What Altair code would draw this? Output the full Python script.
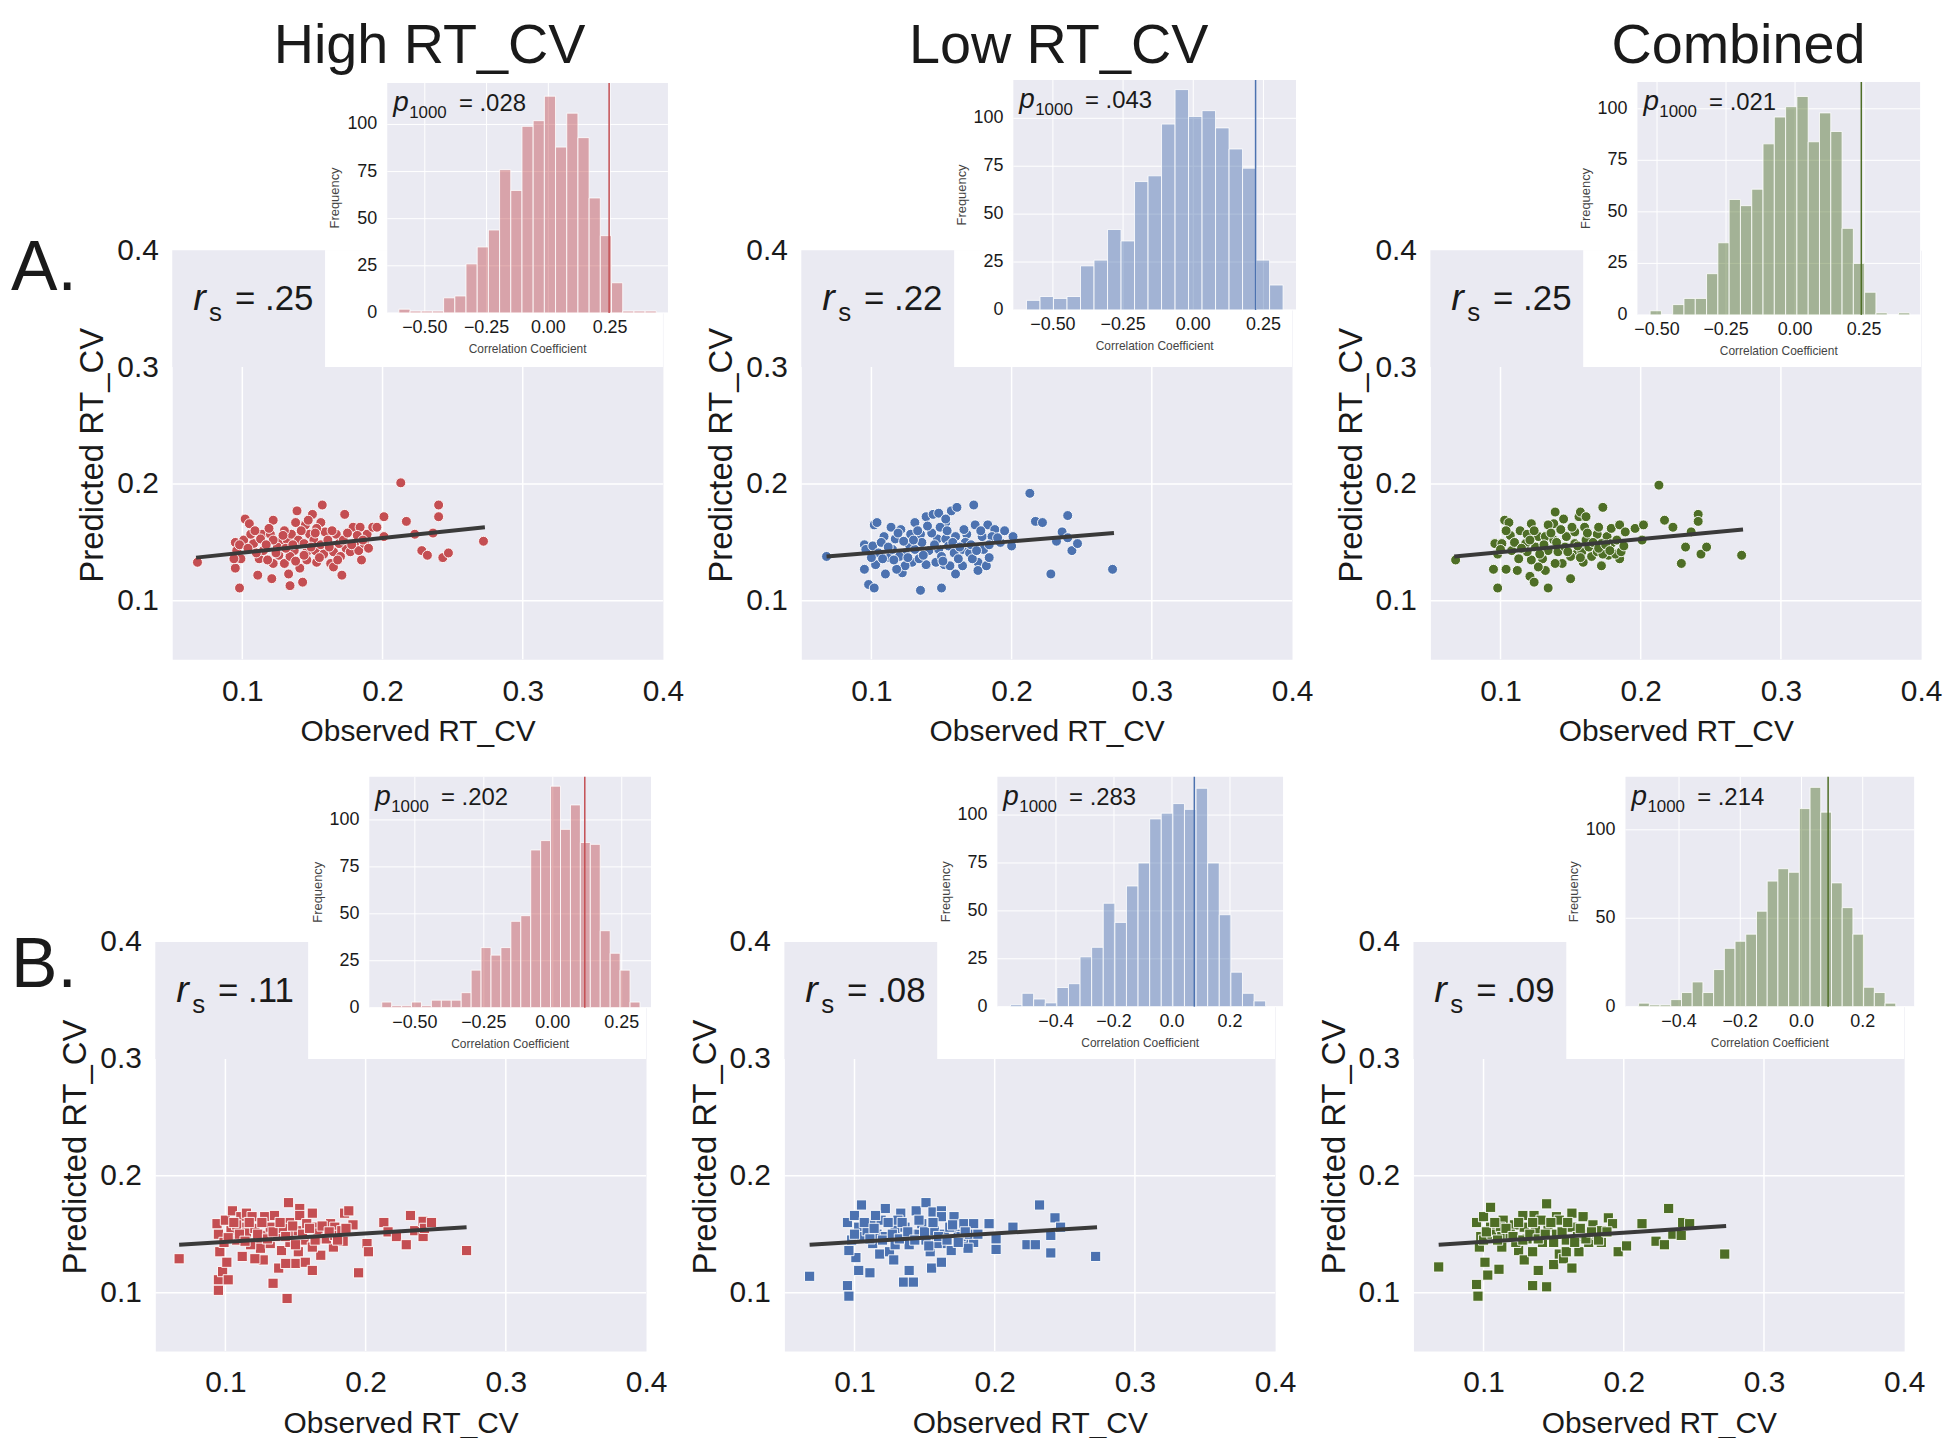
import altair as alt
import pandas as pd

FONT = "Liberation Sans"
BG = "#EAEAF2"
RED, BLUE, GREEN = "#C44E52", "#4C72B0", "#4E6E26"
W, H = 493, 411

COL_TITLES = ["High RT_CV", "Low RT_CV", "Combined"]
ROW_LABELS = ["A.", "B."]
RS = [".25", ".22", ".25", ".11", ".08", ".09"]
P1000 = [".028", ".043", ".021", ".202", ".283", ".214"]
OBS_R = [0.246, 0.222, 0.240, 0.116, 0.077, 0.087]

# ---------------- scatter data (observed, predicted) ----------------
A1_pts = [(0.068,0.133),(0.098,0.111),(0.095,0.128),(0.102,0.170),(0.105,0.166),(0.095,0.150),(0.096,0.143),
          (0.099,0.136),(0.101,0.152),(0.108,0.149),(0.112,0.136),(0.111,0.122),(0.114,0.157),(0.120,0.157),
          (0.122,0.169),(0.121,0.119),(0.122,0.132),(0.127,0.150),(0.130,0.132),(0.134,0.113),(0.133,0.123),
          (0.137,0.143),(0.139,0.177),(0.138,0.167),(0.141,0.128),(0.143,0.116),(0.145,0.165),(0.146,0.142),
          (0.148,0.157),(0.150,0.174),(0.151,0.152),(0.153,0.133),(0.156,0.167),(0.157,0.182),(0.159,0.159),
          (0.160,0.143),(0.163,0.132),(0.165,0.142),(0.167,0.157),(0.171,0.122),(0.173,0.174),(0.174,0.145),
          (0.179,0.163),(0.180,0.149),(0.184,0.163),(0.185,0.135),(0.189,0.157),(0.193,0.163),(0.196,0.163),
          (0.201,0.172),(0.201,0.155),(0.213,0.201),(0.217,0.168),(0.223,0.157),(0.228,0.143),(0.232,0.139),
          (0.236,0.158),(0.240,0.182),(0.240,0.172),(0.243,0.137),(0.247,0.141),(0.272,0.151),(0.094,0.136),
          (0.098,0.148),(0.106,0.157),(0.113,0.153),(0.115,0.143),(0.118,0.135),(0.125,0.146),(0.126,0.139),
          (0.132,0.152),(0.134,0.138),(0.135,0.157),(0.140,0.152),(0.144,0.149),(0.146,0.135),(0.152,0.143),
          (0.156,0.148),(0.158,0.140),(0.161,0.152),(0.165,0.129),(0.169,0.149),(0.170,0.138),(0.177,0.142),
          (0.182,0.156),(0.183,0.143),(0.187,0.149),(0.153,0.162),(0.147,0.169),(0.130,0.160),(0.109,0.160),
          (0.122,0.152),(0.104,0.145),(0.110,0.141),(0.117,0.148),(0.119,0.162),(0.124,0.141),(0.129,0.156),
          (0.131,0.145),(0.136,0.148),(0.138,0.134),(0.142,0.160),(0.144,0.139),(0.149,0.146),(0.152,0.158),
          (0.155,0.137),(0.162,0.146),(0.164,0.160),(0.168,0.135),(0.172,0.152),(0.175,0.158),(0.178,0.148),
          (0.186,0.152),(0.190,0.145)]
A2_pts = [(0.068,0.138),(0.095,0.127),(0.098,0.114),(0.102,0.111),(0.103,0.131),(0.095,0.148),(0.102,0.165),
          (0.104,0.167),(0.109,0.155),(0.110,0.123),(0.114,0.163),(0.113,0.137),(0.121,0.161),(0.122,0.124),
          (0.124,0.141),(0.128,0.157),(0.129,0.133),(0.135,0.109),(0.135,0.157),(0.139,0.172),(0.144,0.174),
          (0.148,0.175),(0.153,0.167),(0.157,0.177),(0.161,0.180),(0.150,0.111),(0.147,0.153),(0.139,0.131),
          (0.146,0.133),(0.152,0.131),(0.160,0.123),(0.165,0.130),(0.165,0.144),(0.168,0.157),(0.173,0.182),
          (0.174,0.165),(0.176,0.133),(0.176,0.126),(0.182,0.130),(0.184,0.137),(0.183,0.165),(0.188,0.161),
          (0.192,0.150),(0.195,0.160),(0.200,0.147),(0.201,0.155),(0.213,0.192),(0.217,0.168),(0.222,0.167),
          (0.228,0.123),(0.232,0.151),(0.236,0.159),(0.240,0.173),(0.240,0.154),(0.243,0.143),(0.247,0.149),
          (0.272,0.127),(0.096,0.144),(0.101,0.147),(0.105,0.141),(0.108,0.136),(0.115,0.144),(0.117,0.153),
          (0.120,0.138),(0.127,0.148),(0.131,0.144),(0.134,0.136),(0.136,0.150),(0.141,0.143),(0.143,0.158),
          (0.148,0.144),(0.150,0.138),(0.153,0.153),(0.155,0.147),(0.159,0.141),(0.160,0.155),(0.162,0.136),
          (0.167,0.150),(0.170,0.141),(0.172,0.136),(0.179,0.155),(0.180,0.144),(0.186,0.155),(0.124,0.130),
          (0.118,0.127),(0.156,0.130),(0.131,0.167),(0.153,0.170),(0.100,0.137),(0.107,0.150),(0.112,0.146),
          (0.116,0.135),(0.119,0.158),(0.123,0.151),(0.126,0.137),(0.130,0.152),(0.133,0.160),(0.137,0.139),
          (0.140,0.164),(0.145,0.148),(0.149,0.163),(0.151,0.134),(0.154,0.160),(0.158,0.150),(0.163,0.146),
          (0.166,0.161),(0.171,0.148),(0.175,0.143),(0.178,0.160),(0.184,0.148),(0.190,0.154)]
A3_pts = [(0.068,0.135),(0.098,0.111),(0.095,0.127),(0.103,0.169),(0.106,0.167),(0.096,0.149),(0.101,0.149),
          (0.104,0.127),(0.112,0.126),(0.114,0.160),(0.113,0.136),(0.122,0.166),(0.121,0.121),(0.124,0.116),
          (0.122,0.135),(0.127,0.155),(0.130,0.136),(0.134,0.111),(0.132,0.126),(0.139,0.176),(0.138,0.166),
          (0.145,0.170),(0.144,0.132),(0.147,0.155),(0.150,0.119),(0.153,0.159),(0.156,0.172),(0.157,0.176),
          (0.161,0.172),(0.154,0.140),(0.161,0.152),(0.165,0.138),(0.169,0.157),(0.170,0.163),(0.173,0.180),
          (0.172,0.130),(0.176,0.155),(0.177,0.139),(0.179,0.162),(0.185,0.165),(0.185,0.136),(0.189,0.159),
          (0.196,0.162),(0.202,0.165),(0.201,0.152),(0.213,0.199),(0.217,0.169),(0.223,0.163),(0.229,0.132),
          (0.232,0.146),(0.236,0.159),(0.241,0.174),(0.241,0.168),(0.243,0.140),(0.247,0.146),(0.272,0.139),
          (0.098,0.140),(0.107,0.156),(0.108,0.143),(0.118,0.149),(0.119,0.142),(0.125,0.146),(0.132,0.155),
          (0.134,0.143),(0.138,0.152),(0.141,0.142),(0.146,0.146),(0.150,0.138),(0.153,0.149),(0.158,0.142),
          (0.159,0.133),(0.163,0.146),(0.169,0.142),(0.172,0.149),(0.173,0.140),(0.179,0.149),(0.182,0.140),
          (0.186,0.142),(0.134,0.165),(0.119,0.157),(0.160,0.163),(0.139,0.132),(0.127,0.129),(0.100,0.144),
          (0.104,0.160),(0.110,0.150),(0.115,0.145),(0.121,0.152),(0.124,0.160),(0.128,0.140),(0.131,0.148),
          (0.136,0.158),(0.140,0.150),(0.143,0.161),(0.148,0.142),(0.151,0.163),(0.155,0.147),(0.157,0.137),
          (0.162,0.158),(0.166,0.150),(0.170,0.145),(0.175,0.148),(0.178,0.143),(0.183,0.152),(0.188,0.147)]
B1_pts = [(0.067,0.129),(0.095,0.111),(0.095,0.102),(0.098,0.118),(0.102,0.111),(0.096,0.135),(0.095,0.150),
          (0.094,0.159),(0.100,0.162),(0.105,0.170),(0.101,0.126),(0.112,0.131),(0.111,0.165),(0.115,0.168),
          (0.108,0.145),(0.113,0.156),(0.119,0.165),(0.124,0.142),(0.125,0.138),(0.127,0.128),(0.128,0.165),
          (0.134,0.108),(0.135,0.166),(0.138,0.121),(0.144,0.095),(0.145,0.177),(0.146,0.160),(0.149,0.152),
          (0.150,0.125),(0.152,0.135),(0.153,0.172),(0.153,0.166),(0.157,0.126),(0.162,0.168),(0.162,0.119),
          (0.163,0.156),(0.168,0.132),(0.170,0.146),(0.175,0.159),(0.177,0.139),(0.178,0.156),(0.185,0.168),
          (0.188,0.170),(0.184,0.144),(0.191,0.158),(0.195,0.117),(0.201,0.142),(0.202,0.135),(0.213,0.160),
          (0.216,0.152),(0.222,0.148),(0.229,0.141),(0.232,0.166),(0.235,0.153),(0.241,0.161),(0.241,0.148),
          (0.242,0.155),(0.247,0.160),(0.272,0.136),(0.099,0.143),(0.104,0.153),(0.108,0.158),(0.115,0.151),
          (0.118,0.141),(0.121,0.155),(0.127,0.149),(0.132,0.156),(0.132,0.142),(0.137,0.148),(0.140,0.136),
          (0.141,0.155),(0.146,0.143),(0.152,0.153),(0.156,0.145),(0.158,0.159),(0.162,0.139),(0.166,0.151),
          (0.172,0.146),(0.178,0.149),(0.183,0.153),(0.143,0.125),(0.121,0.129),(0.102,0.147),(0.106,0.160),
          (0.110,0.150),(0.114,0.144),(0.117,0.160),(0.123,0.150),(0.126,0.160),(0.130,0.146),(0.134,0.152),
          (0.139,0.160),(0.143,0.148),(0.148,0.157),(0.150,0.141),(0.155,0.150),(0.160,0.155),(0.164,0.145),
          (0.169,0.157),(0.174,0.152),(0.180,0.145),(0.186,0.155)]
B2_pts = [(0.068,0.114),(0.095,0.106),(0.096,0.097),(0.103,0.119),(0.111,0.117),(0.101,0.130),(0.096,0.136),
          (0.095,0.160),(0.100,0.166),(0.105,0.175),(0.103,0.156),(0.098,0.145),(0.112,0.159),(0.113,0.142),
          (0.118,0.133),(0.122,0.172),(0.125,0.135),(0.128,0.128),(0.129,0.155),(0.133,0.168),(0.135,0.109),
          (0.139,0.119),(0.142,0.109),(0.139,0.141),(0.144,0.170),(0.151,0.177),(0.154,0.135),(0.155,0.121),
          (0.156,0.169),(0.162,0.170),(0.162,0.165),(0.162,0.126),(0.165,0.142),(0.171,0.165),(0.174,0.150),
          (0.178,0.159),(0.179,0.142),(0.185,0.159),(0.185,0.143),(0.196,0.159),(0.201,0.146),(0.201,0.137),
          (0.213,0.156),(0.223,0.141),(0.229,0.141),(0.232,0.175),(0.240,0.149),(0.240,0.134),(0.243,0.164),
          (0.247,0.156),(0.272,0.131),(0.105,0.148),(0.109,0.153),(0.116,0.150),(0.119,0.162),(0.122,0.148),
          (0.129,0.141),(0.131,0.162),(0.136,0.156),(0.141,0.150),(0.146,0.150),(0.148,0.159),(0.151,0.145),
          (0.157,0.153),(0.159,0.142),(0.164,0.150),(0.168,0.156),(0.169,0.136),(0.176,0.148),(0.182,0.150),
          (0.181,0.138),(0.115,0.166),(0.100,0.150),(0.107,0.160),(0.111,0.146),(0.114,0.155),(0.120,0.145),
          (0.124,0.160),(0.127,0.150),(0.132,0.146),(0.134,0.160),(0.138,0.152),(0.143,0.145),(0.146,0.162),
          (0.150,0.152),(0.153,0.140),(0.156,0.160),(0.160,0.148),(0.166,0.145),(0.170,0.158),(0.174,0.143),
          (0.179,0.152),(0.188,0.150)]
B3_pts = [(0.068,0.122),(0.095,0.107),(0.096,0.097),(0.103,0.115),(0.111,0.120),(0.101,0.126),(0.097,0.139),
          (0.095,0.160),(0.100,0.165),(0.105,0.173),(0.105,0.156),(0.098,0.148),(0.113,0.139),(0.114,0.162),
          (0.122,0.158),(0.125,0.136),(0.129,0.128),(0.128,0.166),(0.135,0.135),(0.135,0.106),(0.139,0.119),
          (0.145,0.105),(0.145,0.176),(0.136,0.166),(0.150,0.124),(0.152,0.165),(0.154,0.133),(0.157,0.129),
          (0.163,0.168),(0.163,0.121),(0.168,0.135),(0.171,0.165),(0.178,0.158),(0.178,0.145),(0.184,0.143),
          (0.189,0.164),(0.192,0.159),(0.196,0.135),(0.202,0.140),(0.213,0.159),(0.223,0.144),(0.229,0.141),
          (0.232,0.172),(0.235,0.150),(0.241,0.149),(0.242,0.160),(0.247,0.159),(0.272,0.133),(0.100,0.145),
          (0.106,0.150),(0.112,0.156),(0.113,0.148),(0.119,0.150),(0.123,0.143),(0.129,0.156),(0.131,0.146),
          (0.137,0.153),(0.142,0.143),(0.146,0.156),(0.152,0.150),(0.154,0.162),(0.159,0.145),(0.163,0.156),
          (0.167,0.148),(0.172,0.150),(0.175,0.143),(0.181,0.150),(0.184,0.153),(0.141,0.162),(0.159,0.135),
          (0.102,0.152),(0.108,0.160),(0.110,0.145),(0.116,0.155),(0.121,0.148),(0.125,0.160),(0.128,0.145),
          (0.133,0.150),(0.135,0.160),(0.139,0.146),(0.144,0.150),(0.148,0.160),(0.150,0.143),(0.156,0.152),
          (0.160,0.160),(0.165,0.143),(0.169,0.155),(0.173,0.146),(0.177,0.152),(0.182,0.145),(0.188,0.152)]

# regression line endpoints (observed, predicted)
A1_line = [(0.067, 0.137), (0.273, 0.163)]
A2_line = [(0.068, 0.138), (0.273, 0.158)]
A3_line = [(0.067, 0.138), (0.273, 0.161)]
B1_line = [(0.067, 0.141), (0.272, 0.156)]
B2_line = [(0.068, 0.141), (0.273, 0.156)]
B3_line = [(0.068, 0.141), (0.273, 0.157)]

# ---------------- permutation histograms ----------------
A1_bin_start, A1_bin_width = -0.605, 0.0453
A1_counts = [2, 1, 1, 1, 8, 9, 26, 35, 44, 76, 65, 99, 102, 115, 88, 106, 93, 61, 41, 16, 1, 1, 1]
A2_bin_start, A2_bin_width = -0.594, 0.0481
A2_counts = [5, 7, 6, 7, 23, 26, 42, 36, 67, 70, 97, 115, 101, 104, 95, 84, 74, 26, 13]
A3_bin_start, A3_bin_width = -0.525, 0.0409
A3_counts = [2, 0, 5, 8, 8, 20, 35, 56, 53, 61, 83, 96, 101, 106, 84, 98, 89, 42, 25, 11, 1, 0, 1]
B1_bin_start, B1_bin_width = -0.620, 0.036
B1_counts = [3, 1, 1, 3, 1, 4, 4, 4, 8, 20, 32, 28, 32, 46, 49, 84, 89, 118, 95, 108, 88, 87, 41, 29, 20, 3]
B2_bin_start, B2_bin_width = -0.557, 0.040
B2_counts = [1, 7, 4, 2, 10, 12, 26, 31, 54, 44, 63, 75, 98, 101, 106, 103, 114, 75, 48, 18, 7, 3]
B3_bin_start, B3_bin_width = -0.532, 0.035
B3_counts = [2, 1, 1, 4, 8, 14, 8, 21, 33, 37, 41, 54, 71, 78, 76, 112, 124, 110, 70, 56, 41, 11, 8, 2]

TICKS_A = [-0.5, -0.25, 0.0, 0.25]
TICKS_B = [-0.4, -0.2, 0.0, 0.2]
Y5 = [0, 25, 50, 75, 100]
Y3 = [0, 50, 100]

# inset geometry (layout only): x-domain, pixel x-range, y max, pixel y-range, relative to panel
GEOM = {
    "A1": dict(xdom=[-0.652, 0.484], xr=[216, 498], ymax=122, yr=[63, -168]),
    "A2": dict(xdom=[-0.641, 0.366], xr=[213, 497], ymax=120, yr=[60, -171]),
    "A3": dict(xdom=[-0.571, 0.453], xr=[208, 492], ymax=113, yr=[65, -169]),
    "B1": dict(xdom=[-0.665, 0.356], xr=[215, 498], ymax=123, yr=[66, -166]),
    "B2": dict(xdom=[-0.602, 0.383], xr=[214, 501], ymax=120, yr=[65, -166]),
    "B3": dict(xdom=[-0.575, 0.368], xr=[213, 503], ymax=130, yr=[65, -166]),
}


def txt(t, x, y, size, align="left", italic=False, color="#1a1a1a", baseline="alphabetic", angle=0):
    kw = dict(fontSize=size, font=FONT, align=align, baseline=baseline, color=color)
    if italic:
        kw["fontStyle"] = "italic"
    if angle:
        kw["angle"] = angle
    return alt.Chart(pd.DataFrame({"t": [t]})).mark_text(**kw).encode(
        x=alt.value(x), y=alt.value(y), text="t:N")


def fmt_tick(v, nd):
    s = f"{v:.{nd}f}"
    return s.replace("-", "\u2212")


def scatter_layers(pts, line, color, shape, rs, title=None, title_dx=0, label=None, label_pos=(0, 0)):
    xs = alt.Scale(domain=[0.05, 0.4], nice=False, zero=False)
    ys = alt.Scale(domain=[0.05, 0.4], nice=False, zero=False)
    common = dict(values=[0.1, 0.2, 0.3, 0.4], format=".1f", grid=False,
                  domain=False, ticks=False, labelFont=FONT, titleFont=FONT, labelFontSize=30,
                  labelColor="#1a1a1a", titleColor="#1a1a1a", labelFlush=False,
                  titleFontWeight="normal")
    xaxis = alt.Axis(title="Observed RT_CV", orient="bottom", labelPadding=17, titlePadding=11,
                     titleFontSize=30, **common)
    yaxis = alt.Axis(title="Predicted RT_CV", orient="left", labelPadding=14, titlePadding=7,
                     titleFontSize=33, **common)

    white = alt.Chart(pd.DataFrame({"x0": [0.05], "x1": [0.4], "y0": [0.3], "y1": [0.4]})).mark_rect(
        color="white").encode(x=alt.X("x0:Q", scale=xs, axis=xaxis), x2="x1",
                              y=alt.Y("y0:Q", scale=ys, axis=yaxis), y2="y1")
    vg = alt.Chart(pd.DataFrame({"v": [0.1, 0.2, 0.3], "lo": 0.05, "hi": 0.3})).mark_rule(
        color="white", strokeWidth=1.5).encode(
        x=alt.X("v:Q", scale=xs, axis=None), y=alt.Y("lo:Q", scale=ys, axis=None), y2="hi")
    hg = alt.Chart(pd.DataFrame({"v": [0.1, 0.2], "lo": 0.05, "hi": 0.4})).mark_rule(
        color="white", strokeWidth=1.5).encode(
        y=alt.Y("v:Q", scale=ys, axis=None), x=alt.X("lo:Q", scale=xs, axis=None), x2="hi")
    box = alt.Chart(pd.DataFrame({"x0": [0.05], "x1": [0.159], "y0": [0.3], "y1": [0.4]})).mark_rect(
        color=BG).encode(x=alt.X("x0:Q", scale=xs, axis=None), x2="x1",
                         y=alt.Y("y0:Q", scale=ys, axis=None), y2="y1")
    df = pd.DataFrame(pts, columns=["obs", "pred"])
    size = 100 if shape == "circle" else 105
    points = alt.Chart(df).mark_point(shape=shape, filled=True, fill=color, stroke="white", strokeWidth=0.9,
                                      size=size, opacity=1).encode(
        x=alt.X("obs:Q", scale=xs, axis=None), y=alt.Y("pred:Q", scale=ys, axis=None))
    ldf = pd.DataFrame(line, columns=["obs", "pred"])
    reg = alt.Chart(ldf).mark_line(color="#3a3a3a", strokeWidth=4).encode(
        x=alt.X("obs:Q", scale=xs, axis=None), y=alt.Y("pred:Q", scale=ys, axis=None))
    layers = [white, vg, hg, box, points, reg,
              txt("r", 21, 60, 38, italic=True),
              txt("s", 37, 71, 26),
              txt("= " + rs, 63, 60, 35)]
    if title:
        layers.append(txt(title, W / 2 + title_dx, -232, 56, align="center", baseline="top"))
    if label:
        layers.append(txt(label, label_pos[0], label_pos[1], 70))
    return layers


def hist_layers(start, width, counts, obs, color, ticks, nd, yticks, geom, ptxt):
    hx = alt.Scale(domain=geom["xdom"], range=geom["xr"], nice=False, zero=False)
    hy = alt.Scale(domain=[0, geom["ymax"]], range=geom["yr"], nice=False, zero=False)
    x0, x1 = geom["xdom"]
    ymax = geom["ymax"]
    left, right = geom["xr"]
    bottom, top = geom["yr"]
    bg = alt.Chart(pd.DataFrame({"a": [x0], "b": [x1], "c": [0], "d": [ymax]})).mark_rect(color=BG).encode(
        x=alt.X("a:Q", scale=hx, axis=None), x2="b", y=alt.Y("c:Q", scale=hy, axis=None), y2="d")
    vgrid = alt.Chart(pd.DataFrame({"v": ticks, "lo": 0, "hi": ymax})).mark_rule(
        color="white", strokeWidth=1).encode(
        x=alt.X("v:Q", scale=hx, axis=None), y=alt.Y("lo:Q", scale=hy, axis=None), y2="hi")
    hgrid = alt.Chart(pd.DataFrame({"v": yticks, "lo": x0, "hi": x1})).mark_rule(
        color="white", strokeWidth=1).encode(
        y=alt.Y("v:Q", scale=hy, axis=None), x=alt.X("lo:Q", scale=hx, axis=None), x2="hi")
    n = len(counts)
    bdf = pd.DataFrame({"l": [start + i * width for i in range(n)],
                        "r": [start + (i + 1) * width for i in range(n)],
                        "c": counts, "z": [0] * n})
    bars = alt.Chart(bdf).mark_rect(fill=color, fillOpacity=0.45, stroke="white", strokeWidth=0.8).encode(
        x=alt.X("l:Q", scale=hx, axis=None), x2="r",
        y=alt.Y("c:Q", scale=hy, axis=None), y2="z")
    vline = alt.Chart(pd.DataFrame({"v": [obs], "lo": [0], "hi": [ymax]})).mark_rule(
        color=color, strokeWidth=1.5).encode(
        x=alt.X("v:Q", scale=hx, axis=None), y=alt.Y("lo:Q", scale=hy, axis=None), y2="hi")
    xlab = alt.Chart(pd.DataFrame({"v": ticks, "t": [fmt_tick(v, nd) for v in ticks]})).mark_text(
        font=FONT, fontSize=18, color="#1a1a1a", align="center", baseline="top").encode(
        x=alt.X("v:Q", scale=hx, axis=None), y=alt.value(bottom + 6), text="t:N")
    ylab = alt.Chart(pd.DataFrame({"v": yticks, "t": [str(v) for v in yticks]})).mark_text(
        font=FONT, fontSize=18, color="#1a1a1a", align="right", baseline="middle").encode(
        y=alt.Y("v:Q", scale=hy, axis=None), x=alt.value(left - 10), text="t:N")
    return [bg, vgrid, hgrid, bars, vline, xlab, ylab,
            txt("Correlation Coefficient", (left + right) / 2, bottom + 31, 12, align="center",
                color="#444444", baseline="top"),
            txt("Frequency", left - 52, (bottom + top) / 2, 13, align="center", color="#444444",
                baseline="middle", angle=270),
            txt("p", left + 6, top + 28, 28, italic=True),
            txt("1000", left + 22, top + 35, 17),
            txt("= " + ptxt, left + 72, top + 28, 24)]


def panel(i, pts, line, color, shape, start, width, counts, ticks, nd, yticks, key, **kw):
    layers = scatter_layers(pts, line, color, shape, RS[i], **kw) + \
        hist_layers(start, width, counts, OBS_R[i], color, ticks, nd, yticks, GEOM[key], P1000[i])
    return alt.layer(*layers).resolve_scale(x="independent", y="independent").resolve_axis(
        x="independent", y="independent").properties(
        width=W, height=H, view=alt.ViewBackground(fill=BG, stroke="transparent"))


pA1 = panel(0, A1_pts, A1_line, RED, "circle", A1_bin_start, A1_bin_width, A1_counts, TICKS_A, 2, Y5, "A1",
            title=COL_TITLES[0], title_dx=12, label=ROW_LABELS[0], label_pos=(-162, 40))
pA2 = panel(1, A2_pts, A2_line, BLUE, "circle", A2_bin_start, A2_bin_width, A2_counts, TICKS_A, 2, Y5, "A2",
            title=COL_TITLES[1], title_dx=12)
pA3 = panel(2, A3_pts, A3_line, GREEN, "circle", A3_bin_start, A3_bin_width, A3_counts, TICKS_A, 2, Y5, "A3",
            title=COL_TITLES[2], title_dx=63)
pB1 = panel(3, B1_pts, B1_line, RED, "square", B1_bin_start, B1_bin_width, B1_counts, TICKS_A, 2, Y5, "B1",
            label=ROW_LABELS[1], label_pos=(-145, 45))
pB2 = panel(4, B2_pts, B2_line, BLUE, "square", B2_bin_start, B2_bin_width, B2_counts, TICKS_B, 1, Y5, "B2")
pB3 = panel(5, B3_pts, B3_line, GREEN, "square", B3_bin_start, B3_bin_width, B3_counts, TICKS_B, 1, Y3, "B3")

spacer = alt.Chart(pd.DataFrame({"a": [0]})).mark_point(opacity=0).encode(
    x=alt.value(0), y=alt.value(0)).properties(width=17, height=1)

rowA = alt.hconcat(spacer, alt.hconcat(pA1, pA2, pA3, spacing=139, bounds="flush"), spacing=0, bounds="flush")
rowB = alt.hconcat(pB1, pB2, pB3, spacing=139, bounds="flush")

chart = alt.vconcat(rowA, rowB, spacing=695, bounds="flush").properties(
    padding={"left": 2, "top": 6, "right": 0, "bottom": 0}, background="white").configure_view(
    stroke="transparent")

chart.save("out.html", embed_options={"renderer": "svg", "actions": False})
